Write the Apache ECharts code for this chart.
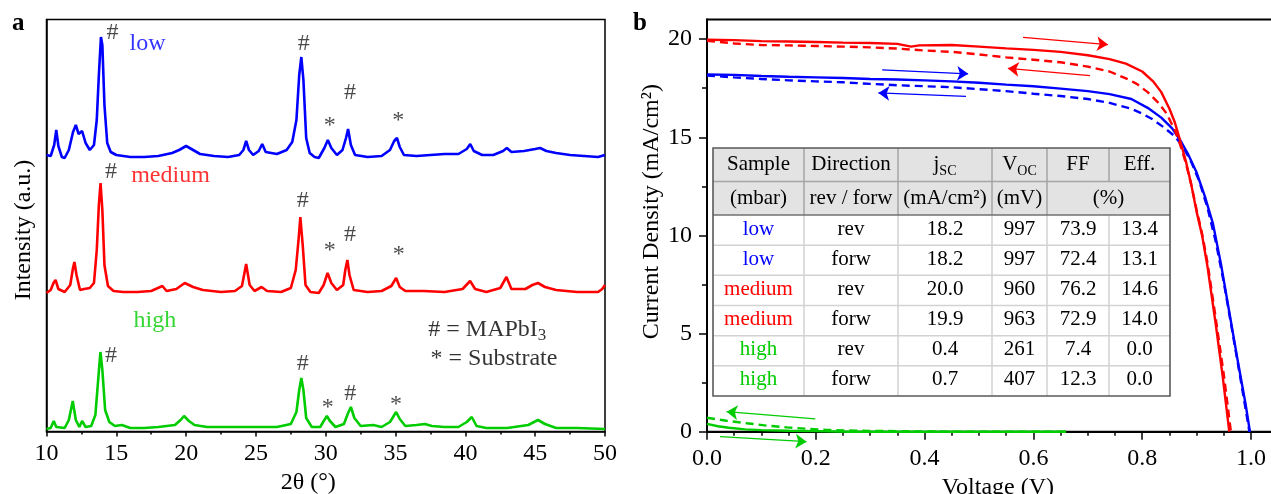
<!DOCTYPE html>
<html>
<head>
<meta charset="utf-8">
<script src="https://cdn.jsdelivr.net/npm/echarts@6/dist/echarts.min.js"></script>
<style>
html,body{margin:0;padding:0;background:#ffffff;}
#chart{width:1271px;height:494px;}
</style>
</head>
<body>
<div id="chart"></div>
<script>
// ================= DATA =================
// XRD patterns: [2theta (deg), intensity above own baseline (a.u.)]
const xrdLow = [[10.0,2],[10.3,1],[10.55,12],[10.7,27],[10.85,11],[11.1,0],[11.3,-1],[11.6,7],[11.9,25],[12.1,32],[12.3,23],[12.55,26],[12.8,14],[13.1,7],[13.4,12],[13.6,37],[13.75,82],[13.9,120],[14.0,112],[14.15,52],[14.35,14],[14.6,5],[15.0,2],[16.0,0],[17.0,0],[18.0,1],[19.0,4],[19.5,7],[20.0,11],[20.5,7],[21.0,3],[22.0,1],[23.0,0],[23.8,2],[24.1,7],[24.3,16],[24.5,7],[24.8,2],[25.2,6],[25.45,13],[25.7,5],[26.5,3],[27.2,7],[27.6,15],[27.9,37],[28.1,82],[28.25,100],[28.4,77],[28.6,19],[28.85,4],[29.2,0],[29.5,-1],[29.9,9],[30.15,17],[30.4,9],[30.8,2],[31.2,7],[31.45,19],[31.6,28],[31.8,12],[32.1,2],[33.0,0],[34.0,1],[34.6,7],[34.9,16],[35.1,19],[35.3,10],[35.6,2],[36.5,1],[37.5,2],[38.5,3],[39.5,3],[40.1,8],[40.35,13],[40.6,6],[41.2,2],[42.0,2],[42.7,6],[42.97,9],[43.3,5],[44.2,6],[45.0,8],[45.35,9],[45.8,6],[46.5,4],[47.5,2],[48.5,1],[49.5,0],[50.0,2]];
const xrdMedium = [[10.0,-1],[10.3,2],[10.5,9],[10.65,12],[10.85,3],[11.3,0],[11.7,7],[11.9,24],[12.0,30],[12.15,17],[12.4,2],[12.7,3],[13.1,4],[13.4,9],[13.6,42],[13.75,87],[13.87,109],[14.0,82],[14.15,27],[14.4,6],[14.8,1],[15.5,0],[16.5,0],[17.5,1],[18.3,6],[18.6,1],[19.3,3],[19.9,9],[20.5,5],[21.2,2],[22.5,0],[23.5,1],[24.0,6],[24.3,28],[24.55,7],[24.9,1],[25.4,5],[25.8,1],[26.8,0],[27.5,4],[27.85,22],[28.05,52],[28.18,75],[28.35,47],[28.55,7],[28.9,0],[29.5,-1],[29.85,7],[30.13,19],[30.4,9],[30.8,2],[31.25,7],[31.4,22],[31.55,32],[31.7,17],[32.0,2],[33.0,0],[34.0,1],[34.7,6],[35.04,14],[35.3,5],[35.7,1],[37.0,1],[38.5,0],[39.8,3],[40.34,11],[40.7,3],[41.5,0],[42.5,4],[42.94,15],[43.3,3],[44.3,3],[44.8,7],[45.2,9],[45.7,5],[46.5,2],[48.0,0],[49.5,0],[49.8,3],[50.0,7]];
const xrdHigh = [[10.0,0],[10.3,1],[10.52,8],[10.7,2],[11.3,1],[11.6,9],[11.88,28],[12.1,9],[12.35,2],[12.55,8],[12.8,2],[13.2,3],[13.5,14],[13.7,49],[13.86,77],[14.0,59],[14.2,19],[14.5,7],[14.9,3],[15.4,4],[16.0,1],[17.0,1],[18.0,2],[19.2,4],[19.6,9],[19.85,13],[20.2,8],[20.6,4],[21.5,2],[23.0,2],[25.0,2],[26.5,2],[27.5,5],[27.9,17],[28.1,39],[28.25,51],[28.4,39],[28.6,11],[29.0,2],[29.6,2],[29.9,9],[30.08,13],[30.3,8],[30.7,2],[31.3,5],[31.6,16],[31.8,22],[32.05,11],[32.5,3],[33.4,4],[34.0,2],[34.6,7],[35.04,17],[35.3,10],[35.7,3],[36.5,4],[37.1,5],[37.6,3],[38.5,2],[39.5,2],[40.1,7],[40.46,12],[40.8,3],[41.5,1],[43.0,1],[44.5,4],[45.2,9],[45.7,5],[46.5,1],[48.0,1],[50.0,0]];
// vertical stacking offsets of the three patterns
const xrdOffsets = [274.5, 139.5, 2.5];
const xrdNames = ['low', 'medium', 'high'];
// peak markers [2theta, plotted height, symbol]
const xrdMarks = [
  [14.72,398.5,'#'],[28.43,387.5,'#'],[30.29,305.5,'*'],[31.73,338.5,'#'],[35.19,310.5,'*'],
  [14.62,260,'#'],[28.35,231,'#'],[30.29,180.5,'*'],[31.73,197,'#'],[35.22,176.5,'*'],
  [14.62,76,'#'],[28.35,67.5,'#'],[30.14,23.5,'*'],[31.75,37.5,'#'],[35.04,26.8,'*']
];
// sample labels [2theta (left edge), plotted height]
const xrdLabelPos = [[15.91,387.6],[16.03,255.3],[16.2,110.5]];
const xrdLegend = [[37.31,101.3,'{m|# = MAPbI}{s|3}'],[37.47,72.8,'{m|* = Substrate}']];

// J-V curves: [voltage (V), current density (mA/cm2)]
const jvLowRev = [[0,18.2],[0.05,18.18],[0.1,18.12],[0.15,18.08],[0.2,18.05],[0.25,18.02],[0.3,17.97],[0.35,17.94],[0.4,17.9],[0.45,17.85],[0.5,17.78],[0.55,17.68],[0.6,17.6],[0.65,17.48],[0.7,17.35],[0.74,17.2],[0.78,16.95],[0.81,16.5],[0.835,16.0],[0.855,15.45],[0.87,14.85],[0.885,14.1],[0.9,13.2],[0.915,12.0],[0.93,10.6],[0.945,8.5],[0.96,6.1],[0.975,3.7],[0.99,1.4],[0.998,0]];
const jvLowForw = [[0,18.15],[0.05,18.05],[0.1,17.97],[0.15,17.9],[0.2,17.85],[0.25,17.8],[0.3,17.72],[0.35,17.65],[0.4,17.6],[0.45,17.55],[0.5,17.45],[0.55,17.35],[0.6,17.22],[0.65,17.1],[0.7,16.95],[0.74,16.75],[0.78,16.45],[0.8,16.2],[0.82,15.9],[0.84,15.5],[0.86,15.05],[0.875,14.5],[0.89,13.75],[0.905,12.75],[0.92,11.4],[0.935,9.7],[0.95,7.6],[0.965,5.2],[0.98,2.8],[0.997,0]];
const jvMedRev = [[0,19.97],[0.05,19.95],[0.1,19.9],[0.15,19.88],[0.2,19.85],[0.25,19.82],[0.3,19.8],[0.35,19.76],[0.375,19.62],[0.39,19.68],[0.45,19.7],[0.5,19.62],[0.55,19.53],[0.6,19.45],[0.65,19.35],[0.7,19.18],[0.74,18.98],[0.77,18.75],[0.8,18.35],[0.82,17.85],[0.835,17.3],[0.85,16.45],[0.86,15.75],[0.87,14.8],[0.88,13.8],[0.89,12.6],[0.9,11.2],[0.91,10.0],[0.92,8.4],[0.935,5.5],[0.948,2.8],[0.96,0]];
const jvMedForw = [[0,19.92],[0.05,19.78],[0.1,19.7],[0.15,19.68],[0.2,19.65],[0.25,19.62],[0.3,19.58],[0.35,19.52],[0.4,19.42],[0.45,19.35],[0.5,19.22],[0.55,19.07],[0.6,18.95],[0.65,18.82],[0.7,18.6],[0.74,18.35],[0.77,18.0],[0.79,17.72],[0.81,17.3],[0.83,16.75],[0.845,16.2],[0.86,15.35],[0.87,14.6],[0.88,13.7],[0.89,12.6],[0.9,11.3],[0.91,10.1],[0.92,8.6],[0.935,5.8],[0.95,2.9],[0.963,0]];
const jvHighRev = [[0,0.4],[0.02,0.28],[0.04,0.2],[0.07,0.12],[0.1,0.08],[0.15,0.05],[0.2,0.03],[0.261,0],[0.4,0],[0.66,0]];
const jvHighForw = [[0,0.71],[0.036,0.56],[0.073,0.43],[0.11,0.31],[0.147,0.22],[0.183,0.15],[0.22,0.09],[0.28,0.05],[0.35,0.03],[0.407,0.01],[0.5,0],[0.66,0]];
// scan direction arrows [V start, J start, V end, J end]
const arrowsLow = [[0.322,18.43,0.48,18.23],[0.476,17.08,0.315,17.26]];
const arrowsMedium = [[0.581,20.09,0.737,19.72],[0.704,18.14,0.553,18.51]];
const arrowsHigh = [[0.199,0.65,0.036,1.02],[0.024,-0.25,0.183,-0.51]];

// tick values
const xrdTicks = {min:10, max:50, interval:5};
const jvXMajor = [0,0.2,0.4,0.6,0.8,1.0];
const jvXMinor = [0.05,0.1,0.15,0.25,0.3,0.35,0.45,0.5,0.55,0.65,0.7,0.75,0.85,0.9,0.95];
const jvYMajor = [0,5,10,15,20];
const jvYMinor = [2.5,7.5,12.5,17.5];

// table
const tableHead1 = ['Sample','Direction','{m|j}{s|SC}','{m|V}{s|OC}','FF','Eff.'];
const tableHead2 = ['(mbar)','rev / forw','(mA/cm²)','(mV)','(%)'];
const tableSample = ['low','low','medium','medium','high','high'];
const tableDir = ['rev','forw','rev','forw','rev','forw'];
const tableJsc = ['18.2','18.2','20.0','19.9','0.4','0.7'];
const tableVoc = ['997','997','960','963','261','407'];
const tableFF = ['73.9','72.4','76.2','72.9','7.4','12.3'];
const tableEff = ['13.4','13.1','14.6','14.0','0.0','0.0'];

// ================= STYLE / LAYOUT =================
const FONT = 'Liberation Serif';
const BLUE = '#0000ff', RED = '#ff0000', GREEN = '#00cc00';
const xrdColors = [BLUE, RED, GREEN];
const tableCols = [713, 804, 898, 992, 1047, 1109, 1170];
const tableRowsY = [148, 181.5, 215, 245.2, 275.3, 305.5, 335.7, 365.8, 396];

function tline(x1,y1,x2,y2,color,w){
  return {type:'line', z:50, silent:true, shape:{x1,y1,x2,y2}, style:{stroke:color, lineWidth:w||1.5}};
}
const tableRich = {
  m:{fontFamily:FONT, fontSize:21, lineHeight:28, fill:'#000'},
  s:{fontFamily:FONT, fontSize:14, lineHeight:13, verticalAlign:'bottom', fill:'#000'},
  low:{fontFamily:FONT, fontSize:21, lineHeight:28, fill:BLUE},
  medium:{fontFamily:FONT, fontSize:21, lineHeight:28, fill:RED},
  high:{fontFamily:FONT, fontSize:21, lineHeight:28, fill:GREEN}
};
function ttext(x,y,text){
  return {type:'text', z:51, silent:true, x:x, y:y,
    style:{text:text, fill:'#000', font:'21px "'+FONT+'"',
      align:'center', verticalAlign:'middle', textAlign:'center', textVerticalAlign:'middle', rich:tableRich}};
}
function tableGraphics(){
  const els = [];
  const C = tableCols, Rw = tableRowsY;
  const L = C[0], R = C[C.length-1], T = Rw[0], B = Rw[Rw.length-1];
  els.push({type:'rect', z:49, silent:true, shape:{x:L,y:T,width:R-L,height:Rw[2]-T}, style:{fill:'#e3e3e3'}});
  els.push({type:'rect', z:49, silent:true, shape:{x:L,y:Rw[2],width:R-L,height:B-Rw[2]}, style:{fill:'#ffffff'}});
  for (let r=3;r<Rw.length-1;r++) els.push(tline(L,Rw[r],R,Rw[r],'#d2d2d2'));
  for (let c=1;c<C.length-1;c++) els.push(tline(C[c],Rw[2],C[c],B,'#d2d2d2'));
  els.push(tline(L,Rw[1],R,Rw[1],'#a5a5a5'));
  for (let c=1;c<C.length-1;c++) els.push(tline(C[c],T,C[c],(c===5?Rw[1]:Rw[2]),'#a5a5a5'));
  els.push(tline(L,Rw[2],R,Rw[2],'#707070'));
  els.push({type:'rect', z:50, silent:true, shape:{x:L,y:T,width:R-L,height:B-T}, style:{fill:'none', stroke:'#5a5a5a', lineWidth:1.6}});
  const cx = i => (C[i]+C[i+1])/2, cy = r => (Rw[r]+Rw[r+1])/2;
  const wrap = t => (t.indexOf('{')===0 ? t : '{m|'+t+'}');
  tableHead1.forEach((t,i)=>els.push(ttext(cx(i),cy(0),wrap(t))));
  tableHead2.forEach((t,i)=>{
    const x = i<4 ? cx(i) : (C[4]+C[6])/2;
    els.push(ttext(x,cy(1),wrap(t)));
  });
  tableSample.forEach((s,r)=>{
    const y = cy(r+2) - 1;
    const row = [s, tableDir[r], tableJsc[r], tableVoc[r], tableFF[r], tableEff[r]];
    row.forEach((t,i)=>els.push(ttext(cx(i),y,'{'+(i===0?s:'m')+'|'+t+'}')));
  });
  return els;
}

// ================= CHART =================
const chart = echarts.init(document.getElementById('chart'), null, {renderer:'canvas'});
const axisText = {color:'#000', fontFamily:FONT, fontSize:24};
const xrdRich = {
  m:{fontFamily:FONT, fontSize:24, lineHeight:28, color:'#000'},
  s:{fontFamily:FONT, fontSize:17, lineHeight:14, verticalAlign:'bottom', color:'#000'}
};

const series = [];
[xrdLow, xrdMedium, xrdHigh].forEach((d,k)=>{
  series.push({type:'line', name:'XRD '+xrdNames[k], xAxisIndex:0, yAxisIndex:0, showSymbol:false, symbol:'none',
    data:d.map(p=>[p[0], p[1]+xrdOffsets[k]]), lineStyle:{color:xrdColors[k], width:2.6}, itemStyle:{color:xrdColors[k]},
    silent:true, z:3});
});
series.push({type:'scatter', name:'marks', xAxisIndex:0, yAxisIndex:0, symbolSize:1, itemStyle:{color:'rgba(0,0,0,0)'}, silent:true, z:5,
  data:xrdMarks.map(m=>({value:[m[0],m[1]], label:{formatter:m[2]}})),
  label:{show:true, position:'inside', color:'#1a1a1a', fontFamily:FONT, fontSize:24}});
series.push({type:'scatter', name:'sample labels', xAxisIndex:0, yAxisIndex:0, symbolSize:1, itemStyle:{color:'rgba(0,0,0,0)'}, silent:true, z:5,
  data:xrdLabelPos.map((p,k)=>({value:[p[0],p[1]], label:{formatter:xrdNames[k], color:xrdColors[k]}})),
  label:{show:true, position:'right', distance:0, fontFamily:FONT, fontSize:24}});
series.push({type:'scatter', name:'legend text', xAxisIndex:0, yAxisIndex:0, symbolSize:1, itemStyle:{color:'rgba(0,0,0,0)'}, silent:true, z:5,
  data:xrdLegend.map(p=>({value:[p[0],p[1]], label:{formatter:p[2]}})),
  label:{show:true, position:'right', distance:0, rich:xrdRich}});

const jvSets = [
  [jvLowRev, BLUE, 'solid'], [jvLowForw, BLUE, 'dashed'],
  [jvMedRev, RED, 'solid'], [jvMedForw, RED, 'dashed'],
  [jvHighRev, GREEN, 'solid'], [jvHighForw, GREEN, 'dashed']
];
jvSets.forEach(s=>{
  series.push({type:'line', xAxisIndex:1, yAxisIndex:1, showSymbol:false, symbol:'none', silent:true, z:3,
    data:s[0], lineStyle:{color:s[1], width:2.4, type: s[2]==='dashed' ? [8,5] : 'solid'}, itemStyle:{color:s[1]}});
});
[[arrowsLow,BLUE],[arrowsMedium,RED],[arrowsHigh,GREEN]].forEach(a=>{
  series.push({type:'lines', coordinateSystem:'cartesian2d', xAxisIndex:1, yAxisIndex:1, clip:false, silent:true, z:4,
    symbol:['none','arrow'], symbolSize:11,
    lineStyle:{color:a[1], width:1.3, opacity:1, curveness:0},
    data:a[0].map(c=>({coords:[[c[0],c[1]],[c[2],c[3]]]}))});
});

const option = {
  animation:false,
  backgroundColor:'#ffffff',
  grid:[
    {left:46.5, top:19.5, width:558.5, height:412, show:true, borderColor:'#000', borderWidth:1.5, backgroundColor:'rgba(0,0,0,0)', containLabel:false, outerBoundsMode:'none'},
    {left:707, top:19.5, width:565.8, height:412.2, show:true, borderColor:'#000', borderWidth:2, backgroundColor:'rgba(0,0,0,0)', containLabel:false, outerBoundsMode:'none'}
  ],
  xAxis:[
    {gridIndex:0, type:'value', min:xrdTicks.min, max:xrdTicks.max, interval:xrdTicks.interval, position:'bottom',
      axisLine:{show:true, onZero:false, lineStyle:{color:'#000', width:1.5}},
      axisTick:{show:true, length:5, inside:false, lineStyle:{color:'#000', width:1.5}},
      minorTick:{show:true, splitNumber:2, length:3, lineStyle:{color:'#000', width:1.5}},
      splitLine:{show:false}, minorSplitLine:{show:false},
      axisLabel:Object.assign({margin:10}, axisText),
      name:'2θ (°)', nameLocation:'middle', nameGap:37,
      nameTextStyle:Object.assign({padding:[0,35,0,0]}, axisText)},
    {gridIndex:1, type:'value', min:0, max:1.04, position:'bottom',
      axisLine:{show:true, onZero:false, lineStyle:{color:'#000', width:2}},
      axisTick:{show:true, length:8, inside:false, customValues:jvXMajor, lineStyle:{color:'#000', width:1.5}},
      splitLine:{show:false},
      axisLabel:Object.assign({margin:15, customValues:jvXMajor, formatter:v=>v.toFixed(1)}, axisText),
      name:'Voltage (V)', nameLocation:'middle', nameGap:38,
      nameTextStyle:Object.assign({padding:[0,0,0,16]}, axisText)},
    {gridIndex:1, type:'value', min:0, max:1.04, position:'bottom', offset:0,
      axisLine:{show:false, onZero:false}, splitLine:{show:false}, axisLabel:{show:false},
      axisTick:{show:true, length:4, inside:false, customValues:jvXMinor, lineStyle:{color:'#000', width:1.5}}}
  ],
  yAxis:[
    {gridIndex:0, type:'value', min:0, max:412, position:'left',
      axisLine:{show:true, onZero:false, lineStyle:{color:'#000', width:1.5}},
      axisTick:{show:false}, axisLabel:{show:false}, splitLine:{show:false},
      name:'Intensity (a.u.)', nameLocation:'middle', nameGap:11,
      nameTextStyle:Object.assign({padding:[0,9,0,0]}, axisText)},
    {gridIndex:1, type:'value', min:0, max:21, position:'left',
      axisLine:{show:true, onZero:false, lineStyle:{color:'#000', width:2}},
      axisTick:{show:true, length:8, inside:false, customValues:jvYMajor, lineStyle:{color:'#000', width:1.5}},
      splitLine:{show:false},
      axisLabel:Object.assign({margin:15, customValues:jvYMajor}, axisText),
      name:'Current Density (mA/cm²)', nameLocation:'middle', nameGap:42,
      nameTextStyle:Object.assign({padding:[0,0,0,28]}, axisText)},
    {gridIndex:1, type:'value', min:0, max:21, position:'left', offset:0,
      axisLine:{show:false, onZero:false}, splitLine:{show:false}, axisLabel:{show:false},
      axisTick:{show:true, length:5, inside:false, customValues:jvYMinor, lineStyle:{color:'#000', width:1.5}}}
  ],
  graphic:[
    {type:'text', z:60, x:12, y:24, silent:true, style:{text:'a', fill:'#000', font:'bold 25px "'+FONT+'"', verticalAlign:'middle', textVerticalAlign:'middle'}},
    {type:'text', z:60, x:633, y:24, silent:true, style:{text:'b', fill:'#000', font:'bold 25px "'+FONT+'"', verticalAlign:'middle', textVerticalAlign:'middle'}}
  ].concat(tableGraphics()),
  series:series
};
chart.setOption(option);
</script>
</body>
</html>
